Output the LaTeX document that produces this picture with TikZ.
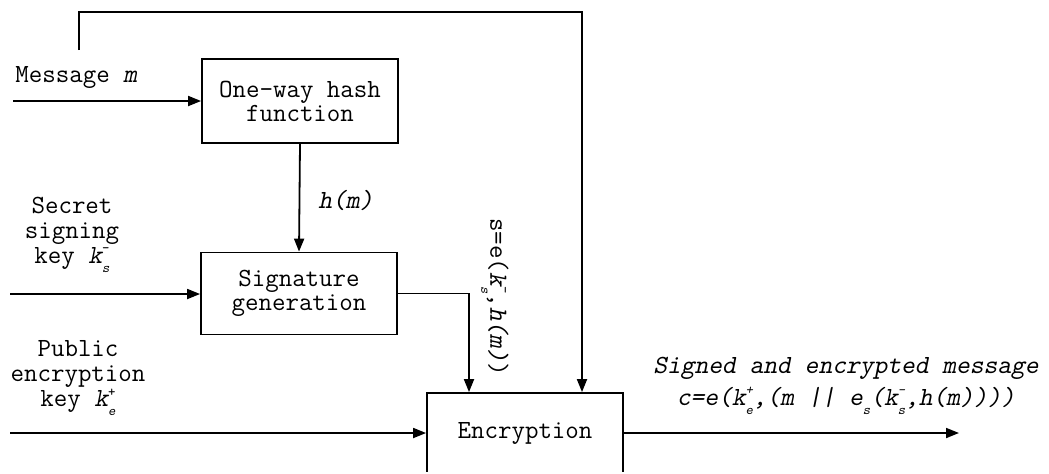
\documentclass[tikz,border=0pt]{standalone}
\usepackage{fontspec}
\usetikzlibrary{arrows.meta}

% slanted typewriter face for the formula parts
\newfontfamily\slt[FakeSlant=0.2]{lmmono10-regular.otf}
\newcommand\tsl[1]{{\slt #1}}

% small scripts for key names
\newcommand\scr{\fontsize{7}{7}\selectfont}
\newcommand\kx[2]{\tsl{k}\rlap{\raisebox{0.95ex}{\scr #1}}\raisebox{-0.8ex}{\scr\slt #2}}
\newcommand\es{\tsl{e}\raisebox{-0.8ex}{\scr\slt s}}

\begin{document}
\begin{tikzpicture}[x=0.5pt,y=-0.5pt,
  every node/.style={font=\ttfamily\fontsize{13.1}{12.5}\selectfont},
  block/.style={draw, line width=0.9pt, minimum width=98pt, align=center, inner sep=0pt},
  lbl/.style={align=center, inner sep=0pt},
  conn/.style={line width=0.9pt},
  arr/.style={conn, -{Triangle[length=6.5pt,width=5pt]}}]
\useasboundingbox (0,0) rectangle (1049,473);
\clip (0,0) rectangle (1049,471.5);

% processing blocks
\node[block, minimum height=42pt, font=\ttfamily\fontsize{13.1}{11}\selectfont] (hash) at (300,101) {One-way hash\\function};
\node[block, minimum height=41pt, font=\ttfamily\fontsize{13.1}{12}\selectfont] (sig) at (299,293.5) {Signature\\generation};
\node[block, minimum height=40pt] (enc) at (525,433) {Encryption};

% input labels
\node[lbl, anchor=west] (msg) at (15,77) {Message \tsl{m}};
\node[lbl] (skey) at (72,235) {Secret\\signing\\key \kx{-}{s}};
\node[lbl] (pkey) at (78,378.5) {Public\\encryption\\key \kx{+}{e}};

% free ends of connectors
\coordinate (min) at (13,101);
\coordinate (mtop) at (79,50);
\coordinate (tr) at (582,12);
\coordinate (sin) at (10,294);
\coordinate (pin) at (10,433);
\coordinate (sx) at (469,0);
\coordinate (out) at (959,433);

% connectors
\draw[arr] (min) -- (hash.west |- min);
\draw[arr] (mtop) |- (tr) -- (tr |- enc.north);
\draw[arr] (hash.south) -- (sig.north);
\draw[arr] (sin) -- (sig.west |- sin);
\draw[arr] (sig.east) -| (sx |- enc.north);
\draw[arr] (pin) -- (enc.west);
\draw[arr] (enc.east) -- (out);

% connector labels
\node[lbl, anchor=west] (hm) at (318,200) {\tsl{h(m)}};
\node[lbl, rotate=-90] (sl) at (495,297) {s=e(\kx{-}{s},\tsl{h(m)})};
\node[lbl, font=\slt\fontsize{13.1}{16}\selectfont] (cl) at (846,386)
  {Signed and encrypted message\\c=e(\kx{+}{e},(m || \es(\kx{-}{s},h(m))))};
\end{tikzpicture}
\end{document}
